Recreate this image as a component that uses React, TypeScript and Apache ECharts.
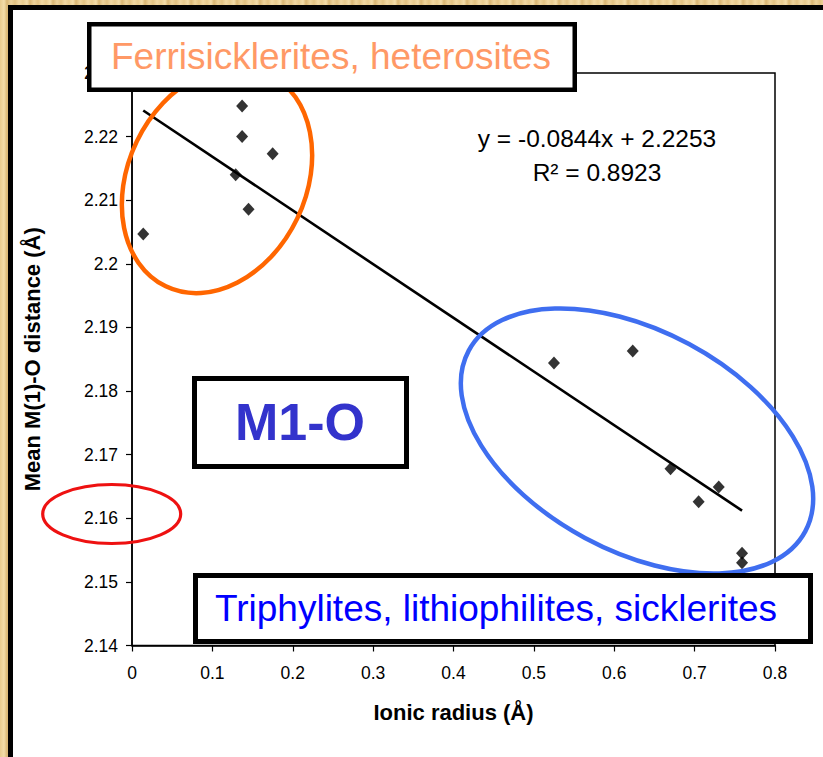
import React, { useEffect, useRef } from "react";
import * as echarts from "echarts";

// Data
const ionicRadius = [0.014, 0.137, 0.137, 0.175, 0.129, 0.145, 0.525, 0.623, 0.67, 0.73, 0.705, 0.759, 0.759];
const meanDistance = [2.2047, 2.2248, 2.22, 2.2173, 2.214, 2.2086, 2.1844, 2.1863, 2.1678, 2.1649, 2.1626, 2.1545, 2.153];
const trendRadius = [0.014, 0.759];
const trendDistance = [2.2241, 2.1612];
const xRange = [0, 0.8, 0.1];
const yRange = [2.14, 2.23, 0.01];
const equationText = ["y = -0.0844x + 2.2253", "R² = 0.8923"];
const groupLabels = ["Ferrisicklerites, heterosites", "M1-O", "Triphylites, lithiophilites, sicklerites"];
const axisTitles = ["Ionic radius (Å)", "Mean M(1)-O distance (Å)"];

const FONT = "'Liberation Sans', Arial, Helvetica, sans-serif";

export default function App() {
  const ref = useRef<HTMLDivElement>(null);

  useEffect(() => {
    if (!ref.current) return;
    const chart = echarts.init(ref.current, undefined, { renderer: "svg" });
    const points = ionicRadius.map((x, i) => [x, meanDistance[i]]);
    const trend = trendRadius.map((x, i) => [x, trendDistance[i]]);

    const textEl = (text: string, x: number, y: number, size: number, color: string, weight = "normal") => ({
      type: "text",
      z: 120,
      style: {
        text,
        x,
        y,
        fill: color,
        font: `${weight} ${size}px ${FONT}`,
        textAlign: "center",
        align: "center",
        textVerticalAlign: "middle",
        verticalAlign: "middle",
      },
    });
    const boxEl = (x: number, y: number, w: number, h: number, lw: number) => ({
      type: "rect",
      z: 110,
      shape: { x: x + lw / 2, y: y + lw / 2, width: w - lw, height: h - lw },
      style: { fill: "#ffffff", stroke: "#000000", lineWidth: lw },
    });
    const ellipseEl = (cx: number, cy: number, rx: number, ry: number, rotDeg: number, color: string, lw: number) => ({
      type: "ellipse",
      z: 105,
      x: cx,
      y: cy,
      rotation: (rotDeg * Math.PI) / 180,
      shape: { cx: 0, cy: 0, rx, ry },
      style: { fill: "none", stroke: color, lineWidth: lw },
    });

    chart.setOption({
      animation: false,
      backgroundColor: "transparent",
      textStyle: { fontFamily: FONT },
      grid: {
        left: 132,
        top: 73,
        right: 48,
        bottom: 111.5,
        show: true,
        borderColor: "#000",
        borderWidth: 1.5,
        backgroundColor: "transparent",
      },
      xAxis: {
        type: "value",
        min: xRange[0],
        max: xRange[1],
        interval: xRange[2],
        name: axisTitles[0],
        nameLocation: "middle",
        nameGap: 56,
        nameTextStyle: { fontSize: 22, fontWeight: "bold", color: "#000", fontFamily: FONT },
        axisLine: { show: true, onZero: false, lineStyle: { color: "#000", width: 1.5 } },
        axisTick: { show: true, inside: false, length: 6, lineStyle: { color: "#000", width: 1.2 } },
        splitLine: { show: false },
        axisLabel: {
          fontSize: 17.5,
          color: "#000",
          margin: 18,
          fontFamily: FONT,
          formatter: (v: number) => String(+v.toFixed(1)),
        },
      },
      yAxis: {
        type: "value",
        min: yRange[0],
        max: yRange[1],
        interval: yRange[2],
        name: axisTitles[1],
        nameLocation: "middle",
        nameGap: 89,
        nameTextStyle: { fontSize: 22, fontWeight: "bold", color: "#000", fontFamily: FONT },
        axisLine: { show: true, onZero: false, lineStyle: { color: "#000", width: 1.5 } },
        axisTick: { show: true, inside: false, length: 6, lineStyle: { color: "#000", width: 1.2 } },
        splitLine: { show: false },
        axisLabel: {
          fontSize: 17.5,
          color: "#000",
          margin: 14,
          fontFamily: FONT,
          formatter: (v: number) => String(+v.toFixed(2)),
        },
      },
      series: [
        {
          type: "line",
          data: trend,
          showSymbol: false,
          symbol: "none",
          lineStyle: { color: "#000", width: 2.6 },
          z: 3,
        },
        {
          type: "scatter",
          data: points,
          symbol: "diamond",
          symbolSize: [12, 13],
          itemStyle: { color: "#000" },
          z: 4,
        },
      ],
      graphic: [
        ellipseEl(217, 180, 89, 118, -25.7, "#FF6600", 4.5),
        ellipseEl(637, 441, 191, 110, -28.2, "#3F6EF0", 4.5),
        ellipseEl(111.7, 514, 69, 29.5, 0, "#EE1111", 3.2),
        textEl(equationText[0], 597, 138, 24.5, "#000"),
        textEl(equationText[1], 597, 172, 24.5, "#000"),
        boxEl(87, 22, 490, 70, 4.5),
        textEl(groupLabels[0], 331, 56, 37, "#FF9966"),
        boxEl(192, 376, 217, 93, 5),
        textEl(groupLabels[1], 300, 422, 52, "#3333CC", "bold"),
        boxEl(193, 573, 620, 71, 5),
        textEl(groupLabels[2], 496, 608, 37, "#0000FF"),
      ],
    });

    return () => chart.dispose();
  }, []);

  const golden =
    "repeating-linear-gradient(90deg, #E8CB8E 0px, #F3DDAA 4px, #D9B673 7px, #EDD39B 11px, #E2C282 15px, #F1D8A3 19px, #E8CB8E 23px)";

  return (
    <div style={{ position: "absolute", left: 0, top: 0, width: 823, height: 757, background: golden, overflow: "hidden" }}>
      <div
        style={{
          position: "absolute",
          left: 7.5,
          top: 5,
          width: 823,
          height: 757,
          background: "#ffffff",
          borderLeft: "5px solid #000",
          borderTop: "5px solid #000",
        }}
      />
      <div ref={ref} style={{ position: "absolute", left: 0, top: 0, width: 823, height: 757 }} />
    </div>
  );
}
